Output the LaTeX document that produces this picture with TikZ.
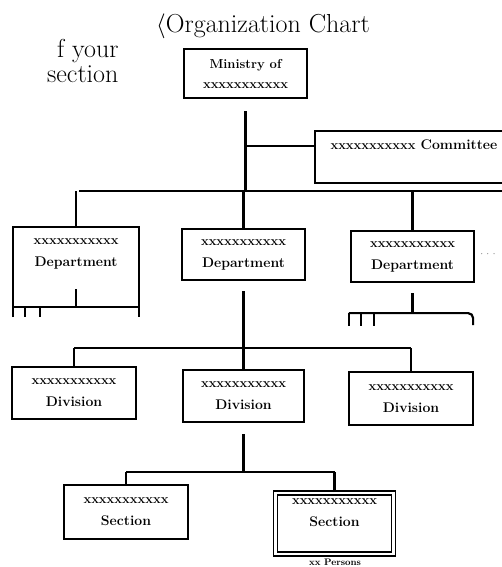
\documentclass[tikz,border=0pt]{standalone}
\usetikzlibrary{positioning, calc}
\newcommand{\xname}{{\fontsize{13}{14}\selectfont xxxxxxxxxxx}}
\tikzset{
  unit/.style={rectangle, draw, line width=2.2pt, minimum width=#1,
               minimum height=51pt, inner sep=0pt, align=center,
               font=\fontsize{14}{17}\selectfont\bfseries},
  unit/.default=123pt,
  link/.style={line width=2.2pt},
  note/.style={font=\fontsize{26}{30}\selectfont},
}
\begin{document}
\begin{tikzpicture}[x=1pt, y=-1pt]
  \useasboundingbox (0,0) rectangle (501,567);
  % heading
  \node[note, anchor=base] (title) at (263,33) {$\langle$Organization Chart};
  \node[note, anchor=base east] (note1) at (122,58) {f your};
  \node[note, anchor=base east] (note2) at (122,83) {section};

  % ministry and committee
  \node[unit, minimum height=49pt, font=\fontsize{13}{15}\selectfont\bfseries] (min) at (245.5,73.5) {Ministry of\\[5pt]\xname};
  \node[unit=250pt, minimum height=52pt, anchor=north west] (com) at (314,130) {};
  \node[anchor=west, font=\fontsize{14}{17}\selectfont\bfseries] (comtext) at (327,145) {\xname\ Committee};

  % departments
  \coordinate (dbusL) at (79,191);
  \coordinate (dbusR) at (506,191);
  \node[unit=124pt, draw=none, anchor=north west] (dl) at (13,227) {\xname\\[5pt]Department};
  \node[unit] (dm) at (243.5,254.5) {\xname\\[5pt]Department};
  \node[unit] (dr) at (412.5,256.5) {\xname\\[5pt]Department};
  \node[font=\fontsize{9}{9}\selectfont] (more) at (488,254) {$\cdot\,\cdot\,\cdot$};

  % open box and cut branches under the outer departments
  \draw[link] ($(dl.south west)+(0,37)$) -- (dl.north west) -- (dl.north east) -- ($(dl.south east)+(0,37)$);
  \draw[link] ($(dl.south)+(0,9)$) -- ($(dl.south)+(0,27)$);
  \draw[link] ($(dl.south west)+(0,27)$) -- ($(dl.south east)+(0,27)$);
  \foreach \dx in {12,27}
    \draw[link] ($(dl.south west)+(\dx,27)$) -- +(0,10);
  \draw[link] ($(dr.south)+(0,10)$) -- ($(dr.south)+(0,30)$);
  \draw[link, rounded corners=5pt] ($(dr.south west)+(-1,30)$) -- ($(dr.south east)+(-2,30)$) -- ($(dr.south east)+(-2,42)$);
  \foreach \dx in {0,12,25}
    \draw[link] ($(dr.south west)+(\dx-1,30)$) -- +(0,13);

  % divisions
  \coordinate (vbus) at (0,348);
  \node[unit=124pt, minimum height=52pt] (dvl) at (74,393) {\xname\\[5pt]Division};
  \node[unit=121pt, minimum height=52pt] (dvm) at (243.5,396) {\xname\\[5pt]Division};
  \node[unit=124pt, minimum height=53pt] (dvr) at (411,398.5) {\xname\\[5pt]Division};

  % sections
  \coordinate (sbus) at (0,472);
  \node[unit=124pt, minimum height=54pt] (sl) at (126,512) {\xname\\[5pt]Section};
  \node[unit=118pt, minimum height=61pt, double, double distance=2.6pt, line width=1.6pt] (sr) at (334.5,523.5) {};
  \node[align=center, font=\fontsize{14}{17}\selectfont\bfseries] (srtext) at (334.5,513) {\xname\\[5pt]Section};
  \node[anchor=north, inner sep=0pt, font=\fontsize{9.5}{11}\selectfont\bfseries] (persons) at (335,559) {xx Persons};

  % connectors
  \draw[link] ([yshift=-12pt]min.south) -- (min.south |- dbusL);
  \draw[link] (min.south |- com.west) ++(0,-11) -- ([yshift=11pt]com.west);
  \draw[link] (dbusL) -- (dbusR);
  \draw[link] (dl.north) -- (dl.north |- dbusL);
  \draw[link] (dm.north) -- (dm.north |- dbusL);
  \draw[link] (dr.north) -- (dr.north |- dbusL);
  \draw[link] ([yshift=-10pt]dm.south) -- (dvm.north);
  \draw[link] (dvl.north |- vbus) -- (dvr.north |- vbus);
  \draw[link] (dvl.north) -- (dvl.north |- vbus);
  \draw[link] (dvr.north) -- (dvr.north |- vbus);
  \draw[link] ([yshift=-11pt]dvm.south) -- (dvm.south |- sbus);
  \draw[link] (sl.north |- sbus) -- (sr.north |- sbus);
  \draw[link] (sl.north) -- (sl.north |- sbus);
  \draw[link] (sr.north) -- (sr.north |- sbus);
\end{tikzpicture}
\end{document}
